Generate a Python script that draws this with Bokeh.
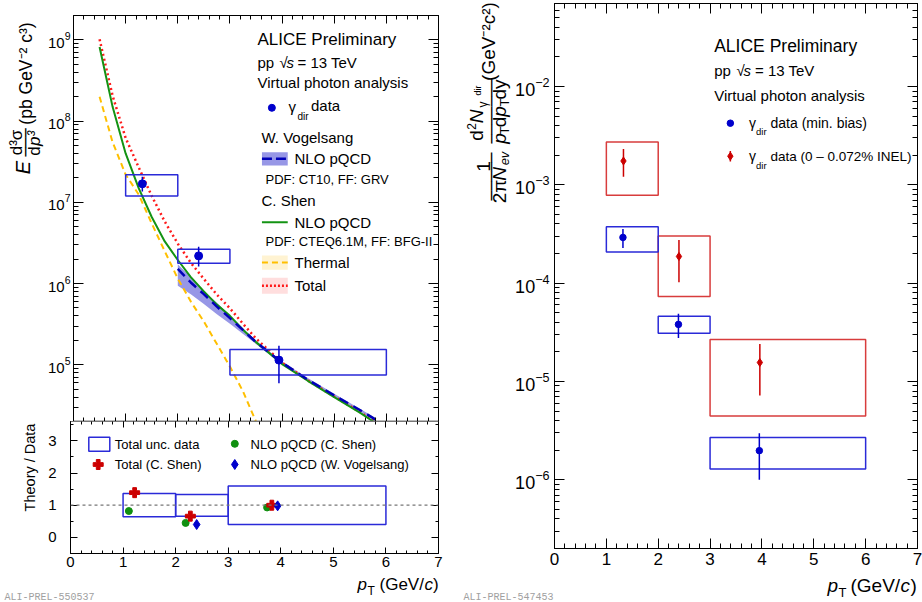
import math
import numpy as np
from bokeh.plotting import figure
from bokeh.models import Range1d, LinearAxis, LogAxis, FixedTicker, Label, CustomJSTickFormatter, Span
from bokeh.layouts import row, column
from bokeh.embed import file_html
from bokeh.resources import INLINE

FONT = "Liberation Sans"

# ---------------- data: left panel, cross section ----------------
bin_lo = [1.0, 2.0, 3.0]
bin_hi = [2.0, 3.0, 6.0]
xs_pt = [1.32, 2.40, 3.94]
xs_val = [1.69e7, 2.19e6, 1.14e5]
xs_stat_lo = [1.36e7, 1.62e6, 5.9e4]
xs_stat_hi = [2.07e7, 2.83e6, 1.71e5]
xs_sys_lo = [1.20e7, 1.78e6, 7.5e4]
xs_sys_hi = [2.19e7, 2.65e6, 1.54e5]

shen_pt = [0.5, 0.75, 1.0, 1.25, 1.5, 1.75, 2.0, 2.25, 2.5, 2.75, 3.0, 3.25, 3.5, 3.75, 4.0, 4.5, 5.0, 5.5, 5.8]
shen_nlo = [8.2e8, 1.5e8, 4.0e7, 1.5e7, 6.6e6, 3.3e6, 1.95e6, 1.2e6, 8.0e5, 5.5e5, 4.0e5, 2.7e5,
            1.9e5, 1.4e5, 1.02e5, 6.3e4, 4.0e4, 2.55e4, 1.9e4]
shen_total = [1.02e9, 2.05e8, 6.2e7, 2.7e7, 1.2e7, 5.8e6, 3.1e6, 1.8e6, 1.14e6, 7.3e5, 4.95e5, 3.2e5,
              2.1e5, 1.5e5, 1.06e5, 6.4e4, 4.05e4, 2.6e4, 1.95e4]
thermal_pt = [0.5, 0.75, 1.0, 1.25, 1.5, 1.75, 2.0, 2.25, 2.5, 2.75, 3.0, 3.25, 3.5, 3.6]
thermal = [2.0e8, 5.5e7, 2.2e7, 1.25e7, 5.5e6, 2.5e6, 1.15e6, 6.0e5, 3.4e5, 1.8e5, 9.5e4, 4.7e4, 2.0e4, 1.4e4]
vog_pt = [2.0, 2.25, 2.5, 2.75, 3.0, 3.5, 4.0, 4.5, 5.0, 5.5, 5.8]
vog_nlo = [1.52e6, 1.03e6, 7.4e5, 5.2e5, 3.75e5, 1.9e5, 1.06e5, 6.5e4, 4.2e4, 2.75e4, 2.1e4]
vog_lo = [9.4e5, 7.4e5, 5.6e5, 4.2e5, 3.2e5, 1.8e5, 1.01e5, 6.3e4, 4.0e4, 2.65e4, 2.0e4]
vog_hi = [1.73e6, 1.2e6, 8.0e5, 5.8e5, 4.0e5, 1.98e5, 1.1e5, 6.8e4, 4.4e4, 2.85e4, 2.2e4]

# ---------------- data: ratio panel ----------------
ratio_unc_lo = [0.64, 0.66, 0.40]
ratio_unc_hi = [1.36, 1.33, 1.60]
ratio_shen_pt = [1.11, 2.19, 3.74]
ratio_shen = [0.82, 0.45, 0.93]
ratio_total_pt = [1.22, 2.28, 3.83]
ratio_total = [1.39, 0.66, 1.00]
ratio_vog_pt = [2.40, 3.94]
ratio_vog = [0.40, 0.98]

# ---------------- data: right panel, invariant yield ----------------
mb_pt = [1.32, 2.39, 3.95]
mb_val = [2.92e-4, 3.81e-5, 1.98e-6]
mb_stat_lo = [2.28e-4, 2.77e-5, 1.0e-6]
mb_stat_hi = [3.55e-4, 4.9e-5, 2.98e-6]
mb_sys_lo = [2.07e-4, 3.09e-5, 1.29e-6]
mb_sys_hi = [3.75e-4, 4.6e-5, 2.69e-6]
hm_pt = [1.33, 2.40, 3.96]
hm_val = [1.75e-3, 1.87e-4, 1.56e-5]
hm_stat_lo = [1.21e-3, 1.02e-4, 7.2e-6]
hm_stat_hi = [2.32e-3, 2.75e-4, 2.4e-5]
hm_sys_lo = [7.85e-4, 7.33e-5, 4.45e-6]
hm_sys_hi = [2.73e-3, 3.02e-4, 2.67e-5]

x_major = list(range(0, 8))
x_minor = [round(0.2 * i, 2) for i in range(0, 36)]

BLUE = "#0000cc"
BLUE_BOX = "#2a2ad8"
RED = "#cc0000"
RED_BOX = "#d83c3c"
GREEN = "#139313"
ORANGE = "#ffbf00"
RED_LINE = "#ff1a1a"
BAND = "#8585e2"

# ---------------- geometry (absolute page pixels) ----------------
F1 = dict(left=70, right=438, top=15, bottom=421)
F2 = dict(left=70, right=438, top=421, bottom=553)
F3 = dict(left=551, right=917, top=3, bottom=548)
# strips: their frames get aligned with the neighbouring plot frames
S1 = dict(left=0, bottom=421)
S2 = dict(left=0, bottom=553)
SB = dict(left=0, bottom=602)
S3 = dict(left=460, bottom=548)
S4 = dict(left=460, bottom=602)
Y1 = (2e4, 2e9)
Y2 = (-0.5, 3.6)
Y3 = (2e-7, 7e-2)


def xmap(f, sx):
    return (sx - f["left"]) / (f["right"] - f["left"]) * 7.0


def ylog(f, rng, sy):
    a, b = math.log10(rng[0]), math.log10(rng[1])
    return 10 ** (b - (sy - f["top"]) / (f["bottom"] - f["top"]) * (b - a))


def ylin(f, rng, sy):
    return rng[1] - (sy - f["top"]) / (f["bottom"] - f["top"]) * (rng[1] - rng[0])


def make_fig(w, h, l, r, t, b, yr, log):
    kw = dict(width=w, height=h, x_range=Range1d(0, 7), y_range=Range1d(*yr), output_backend="svg",
              toolbar_location=None, min_border_left=l, min_border_right=r, min_border_top=t,
              min_border_bottom=b)
    if log:
        kw["y_axis_type"] = "log"
    p = figure(**kw)
    p.grid.visible = False
    p.outline_line_color = None
    return p


def make_strip(w, h):
    s = figure(width=w, height=h, x_range=Range1d(0, 1), y_range=Range1d(0, 1), x_axis_location=None,
               y_axis_location=None, output_backend="svg", toolbar_location=None, min_border=0)
    s.grid.visible = False
    s.outline_line_color = None
    return s


def style_axis(ax, ticker, maj, mnr, size=None, standoff=0, color="black", width=1):
    ax.ticker = ticker
    ax.major_tick_in = maj
    ax.major_tick_out = 0
    ax.minor_tick_in = mnr
    ax.minor_tick_out = 0
    ax.axis_line_color = color
    ax.axis_line_width = width
    ax.major_tick_line_color = "black"
    ax.minor_tick_line_color = "black"
    if size is None:
        ax.formatter = CustomJSTickFormatter(code="return ''")
        ax.major_label_text_font_size = "1px"
        ax.major_label_standoff = 0
    else:
        ax.major_label_text_font = FONT
        ax.major_label_text_font_size = f"{size}px"
        ax.major_label_standoff = standoff
        ax.major_label_text_color = "black"


def lab(fig, f, sx, sy, text, size, style="normal", align="left", baseline="middle", angle=0.0,
        color="black", font=FONT):
    fig.add_layout(Label(x=sx - f["left"], y=f["bottom"] - sy, x_units="screen", y_units="screen",
                         text=text, text_font=font, text_font_size=f"{size}px", text_font_style=style,
                         text_align=align, text_baseline=baseline, angle=angle, text_color=color))


def rlab(fig, f, cx, cy, text, size, style="normal"):
    lab(fig, f, cx, cy, text, size, style=style, align="center", baseline="middle", angle=math.pi / 2)


def vbar(fig, f, cx, cy, length):
    n = max(1, int(round(length / (0.602 * 16))))
    fs = length / (n * 0.602)
    lab(fig, f, cx, cy, "\u2500" * n, round(fs, 1), align="center", baseline="middle",
        angle=math.pi / 2, font="DejaVu Sans")


def log_ticks(lo, hi):
    e0, e1 = int(math.floor(math.log10(lo))), int(math.ceil(math.log10(hi)))
    major = [10.0 ** e for e in range(e0, e1 + 1) if lo <= 10.0 ** e <= hi]
    minor = [m * 10.0 ** e for e in range(e0, e1 + 1) for m in range(1, 10) if lo <= m * 10.0 ** e <= hi]
    return FixedTicker(ticks=major, minor_ticks=minor)


# =============== p1: cross section ===============
p1 = make_fig(416, 421, 26, 22, 15, 0, Y1, True)
p1.add_layout(LinearAxis(), "above")
p1.add_layout(LogAxis(), "right")
style_axis(p1.left[0], log_ticks(*Y1), 10, 5, size=15, standoff=3)
style_axis(p1.right[0], log_ticks(*Y1), 10, 5)
style_axis(p1.above[0], FixedTicker(ticks=x_major, minor_ticks=x_minor), 8, 4)
style_axis(p1.below[0], FixedTicker(ticks=x_major, minor_ticks=x_minor), 8, 4, color="#777777", width=2)

p1.varea(x=vog_pt, y1=vog_lo, y2=vog_hi, fill_color=BAND, fill_alpha=0.85)
p1.line(thermal_pt, thermal, line_color=ORANGE, line_width=2, line_dash="6 4")
p1.line(shen_pt, shen_total, line_color=RED_LINE, line_width=2.5, line_dash="2 3")
p1.line(shen_pt, shen_nlo, line_color=GREEN, line_width=2)
p1.line(vog_pt, vog_nlo, line_color="#0000b8", line_width=2.5, line_dash="10 6")
p1.quad(left=bin_lo, right=bin_hi, bottom=xs_sys_lo, top=xs_sys_hi, fill_alpha=0, line_color=BLUE_BOX,
        line_width=1.5)
p1.segment(x0=xs_pt, y0=xs_stat_lo, x1=xs_pt, y1=xs_stat_hi, line_color=BLUE, line_width=1.5)
p1.scatter(xs_pt, xs_val, marker="circle", size=8, color=BLUE)

# legend (p1)
lab(p1, F1, 254, 39, "ALICE Preliminary", 17)
lab(p1, F1, 254, 62, "pp", 15)
lab(p1, F1, 276, 62, "\u221a", 15)
lab(p1, F1, 283, 62, "s", 15, style="italic")
lab(p1, F1, 294, 62, "= 13 TeV", 15)
lab(p1, F1, 254, 82, "Virtual photon analysis", 15)
p1.scatter([xmap(F1, 270)], [ylog(F1, Y1, 107.3)], marker="circle", size=7, color=BLUE)
lab(p1, F1, 285, 106, "\u03b3", 15)
lab(p1, F1, 294, 116, "dir", 10)
lab(p1, F1, 307.5, 105, "data", 15)
lab(p1, F1, 258, 137, "W. Vogelsang", 15)
p1.quad(left=[xmap(F1, 260)], right=[xmap(F1, 286)], top=[ylog(F1, Y1, 151.7)], bottom=[ylog(F1, Y1, 165)],
        fill_color=BAND, fill_alpha=0.85, line_color=None)
p1.line([xmap(F1, 260), xmap(F1, 286)], [ylog(F1, Y1, 158.3)] * 2, line_color="#0000b8", line_width=2.5,
        line_dash="10 4")
lab(p1, F1, 291, 158, "NLO pQCD", 15)
lab(p1, F1, 262, 179, "PDF: CT10, FF: GRV", 13)
lab(p1, F1, 258, 200, "C. Shen", 15)
p1.line([xmap(F1, 260), xmap(F1, 286)], [ylog(F1, Y1, 221.7)] * 2, line_color=GREEN, line_width=2)
lab(p1, F1, 291, 221.5, "NLO pQCD", 15)
lab(p1, F1, 262, 240.5, "PDF: CTEQ6.1M, FF: BFG-II", 13)
p1.quad(left=[xmap(F1, 260)], right=[xmap(F1, 286)], top=[ylog(F1, Y1, 255)], bottom=[ylog(F1, Y1, 269.3)],
        fill_color="#fff3d2", line_color=None)
p1.line([xmap(F1, 260), xmap(F1, 286)], [ylog(F1, Y1, 262)] * 2, line_color=ORANGE, line_width=2,
        line_dash="6 4")
lab(p1, F1, 291, 262, "Thermal", 15)
p1.quad(left=[xmap(F1, 260)], right=[xmap(F1, 286)], top=[ylog(F1, Y1, 277.3)], bottom=[ylog(F1, Y1, 293.3)],
        fill_color="#ffdede", line_color=None)
p1.line([xmap(F1, 260), xmap(F1, 286)], [ylog(F1, Y1, 285.3)] * 2, line_color=RED_LINE, line_width=2.5,
        line_dash="2 2")
lab(p1, F1, 291, 285, "Total", 15)

# y-axis title of p1, drawn in a strip to its left
s1 = make_strip(44, 421)
rlab(s1, S1, 22.5, 167, "E", 20, style="italic")
rlab(s1, S1, 16, 142, "d\u00b3\u03c3", 17)
vbar(s1, S1, 25.5, 142, 28)
rlab(s1, S1, 34, 150.5, "d", 17)
rlab(s1, S1, 34, 138, "p\u00b3", 17, style="italic")
rlab(s1, S1, 25, 73, "(pb GeV\u207b\u00b2 c\u00b3)", 17.5)

# =============== p2: ratio ===============
p2 = make_fig(416, 154, 26, 22, 0, 22, Y2, False)
p2.add_layout(LinearAxis(), "above")
p2.add_layout(LinearAxis(), "right")
style_axis(p2.left[0], FixedTicker(ticks=[0, 1, 2, 3], minor_ticks=[-0.5 + 0.5 * i for i in range(9)]),
           7, 3, size=15, standoff=14)
style_axis(p2.right[0], FixedTicker(ticks=[0, 1, 2, 3], minor_ticks=[-0.5 + 0.5 * i for i in range(9)]), 7, 3)
style_axis(p2.above[0], FixedTicker(ticks=x_major, minor_ticks=x_minor), 6, 3, color="#777777", width=1)
style_axis(p2.below[0], FixedTicker(ticks=x_major, minor_ticks=x_minor), 6, 3, size=15, standoff=3)

p2.add_layout(Span(location=1, dimension="width", line_color="#777777", line_dash="3 3", line_width=1.2))
p2.quad(left=bin_lo, right=bin_hi, bottom=ratio_unc_lo, top=ratio_unc_hi, fill_alpha=0, line_color=BLUE_BOX,
        line_width=1.5)
p2.scatter(ratio_shen_pt, ratio_shen, marker="circle", size=7, color="#109010")
p2.scatter(ratio_total_pt, ratio_total, marker="plus", size=10, color=RED)
p2.scatter(ratio_vog_pt, ratio_vog, marker="diamond", size=10, color=BLUE)

p2.quad(left=[xmap(F2, 88.3)], right=[xmap(F2, 109.3)], top=[ylin(F2, Y2, 436.7)], bottom=[ylin(F2, Y2, 450.7)],
        fill_alpha=0, line_color=BLUE_BOX, line_width=1.5)
lab(p2, F2, 114.3, 443.5, "Total unc. data", 13)
p2.scatter([xmap(F2, 97.7)], [ylin(F2, Y2, 464)], marker="plus", size=10, color=RED)
lab(p2, F2, 114.3, 464, "Total (C. Shen)", 13)
p2.scatter([xmap(F2, 234.3)], [ylin(F2, Y2, 443.3)], marker="circle", size=7, color="#109010")
lab(p2, F2, 250, 443.5, "NLO pQCD (C. Shen)", 13)
p2.scatter([xmap(F2, 234.3)], [ylin(F2, Y2, 464)], marker="diamond", size=10, color=BLUE)
lab(p2, F2, 250, 464, "NLO pQCD (W. Vogelsang)", 13)

s2 = make_strip(44, 154)
rlab(s2, S2, 29, 467, "Theory / Data", 14.5)

sb = make_strip(460, 27)
lab(sb, SB, 357, 584, "p", 17, style="italic", baseline="alphabetic")
lab(sb, SB, 367, 590, "T", 12, baseline="alphabetic")
lab(sb, SB, 379, 584, "(GeV/", 17, baseline="alphabetic")
lab(sb, SB, 424, 584, "c", 17, style="italic", baseline="alphabetic")
lab(sb, SB, 432.5, 584, ")", 17, baseline="alphabetic")
lab(sb, SB, 4, 597, "ALI-PREL-550537", 10, color="#a0a0a0", font="Liberation Mono")

# =============== p3: invariant yield ===============
p3 = make_fig(410, 573, 39, 5, 3, 25, Y3, True)
p3.add_layout(LinearAxis(), "above")
p3.add_layout(LogAxis(), "right")
style_axis(p3.left[0], log_ticks(*Y3), 10, 5, size=18, standoff=5)
style_axis(p3.right[0], log_ticks(*Y3), 10, 5)
style_axis(p3.above[0], FixedTicker(ticks=x_major, minor_ticks=x_minor), 10, 5)
style_axis(p3.below[0], FixedTicker(ticks=x_major, minor_ticks=x_minor), 10, 5, size=17, standoff=4)

p3.quad(left=bin_lo, right=bin_hi, bottom=hm_sys_lo, top=hm_sys_hi, fill_alpha=0, line_color=RED_BOX,
        line_width=1.5)
p3.quad(left=bin_lo, right=bin_hi, bottom=mb_sys_lo, top=mb_sys_hi, fill_alpha=0, line_color=BLUE_BOX,
        line_width=1.5)
p3.segment(x0=hm_pt, y0=hm_stat_lo, x1=hm_pt, y1=hm_stat_hi, line_color=RED, line_width=1.5)
p3.segment(x0=mb_pt, y0=mb_stat_lo, x1=mb_pt, y1=mb_stat_hi, line_color=BLUE, line_width=1.5)
p3.scatter(hm_pt, hm_val, marker="diamond", size=8, color=RED)
p3.scatter(mb_pt, mb_val, marker="circle", size=6.5, color=BLUE)

lab(p3, F3, 710.7, 45, "ALICE Preliminary", 17.5)
lab(p3, F3, 710.7, 70, "pp", 15)
lab(p3, F3, 733, 70, "\u221a", 15)
lab(p3, F3, 740, 70, "s", 15, style="italic")
lab(p3, F3, 751.5, 70, "= 13 TeV", 15)
lab(p3, F3, 710.7, 95, "Virtual photon analysis", 15)
p3.scatter([xmap(F3, 728.3)], [ylog(F3, Y3, 122.7)], marker="circle", size=6.5, color=BLUE)
lab(p3, F3, 745.5, 122, "\u03b3", 14)
lab(p3, F3, 752.5, 131, "dir", 9.5)
lab(p3, F3, 767, 122, "data (min. bias)", 14)
p3.segment(x0=[xmap(F3, 728.3)], y0=[ylog(F3, Y3, 150.5)], x1=[xmap(F3, 728.3)], y1=[ylog(F3, Y3, 161)],
           line_color=RED, line_width=1.5)
p3.scatter([xmap(F3, 728.3)], [ylog(F3, Y3, 155.7)], marker="diamond", size=8, color=RED)
lab(p3, F3, 745.5, 155.5, "\u03b3", 14)
lab(p3, F3, 752.5, 164.5, "dir", 9.5)
lab(p3, F3, 767, 155.5, "data (0 \u2013 0.072% INEL)", 13.5)

# y-axis title of p3, drawn in a strip to its left
s3 = make_strip(52, 573)
rlab(s3, S3, 482.5, 166, "1", 19)
vbar(s3, S3, 491, 176, 48)
rlab(s3, S3, 499, 191, "2\u03c0", 19)
rlab(s3, S3, 499, 173.5, "N", 19, style="italic")
rlab(s3, S3, 503.5, 158, "ev", 13, style="italic")
rlab(s3, S3, 476, 135, "d", 19)
rlab(s3, S3, 471, 126, "2", 12)
rlab(s3, S3, 476, 116, "N", 19, style="italic")
rlab(s3, S3, 482, 104, "\u03b3", 12)
rlab(s3, S3, 477, 90, "dir", 9)
vbar(s3, S3, 491, 110.5, 65)
rlab(s3, S3, 499, 138, "p", 19, style="italic")
rlab(s3, S3, 503.5, 130, "T", 13)
rlab(s3, S3, 499, 121.5, "d", 19)
rlab(s3, S3, 499, 111, "p", 19, style="italic")
rlab(s3, S3, 503.5, 102, "T", 13)
rlab(s3, S3, 499, 89, "dy", 19)
rlab(s3, S3, 488, 41, "(GeV\u207b\u00b2c\u00b2)", 19)

s4 = make_strip(462, 29)
lab(s4, S4, 827, 585, "p", 19, style="italic", baseline="alphabetic")
lab(s4, S4, 838, 592, "T", 13, baseline="alphabetic")
lab(s4, S4, 850, 585, "(GeV/", 19, baseline="alphabetic")
lab(s4, S4, 900, 585, "c", 19, style="italic", baseline="alphabetic")
lab(s4, S4, 910, 585, ")", 19, baseline="alphabetic")
lab(s4, S4, 463, 597, "ALI-PREL-547453", 10, color="#a0a0a0", font="Liberation Mono")

layout = row(column(row(s1, p1), row(s2, p2), sb), column(row(s3, p3), s4))
open("out.html", "w").write(file_html(layout, INLINE))
